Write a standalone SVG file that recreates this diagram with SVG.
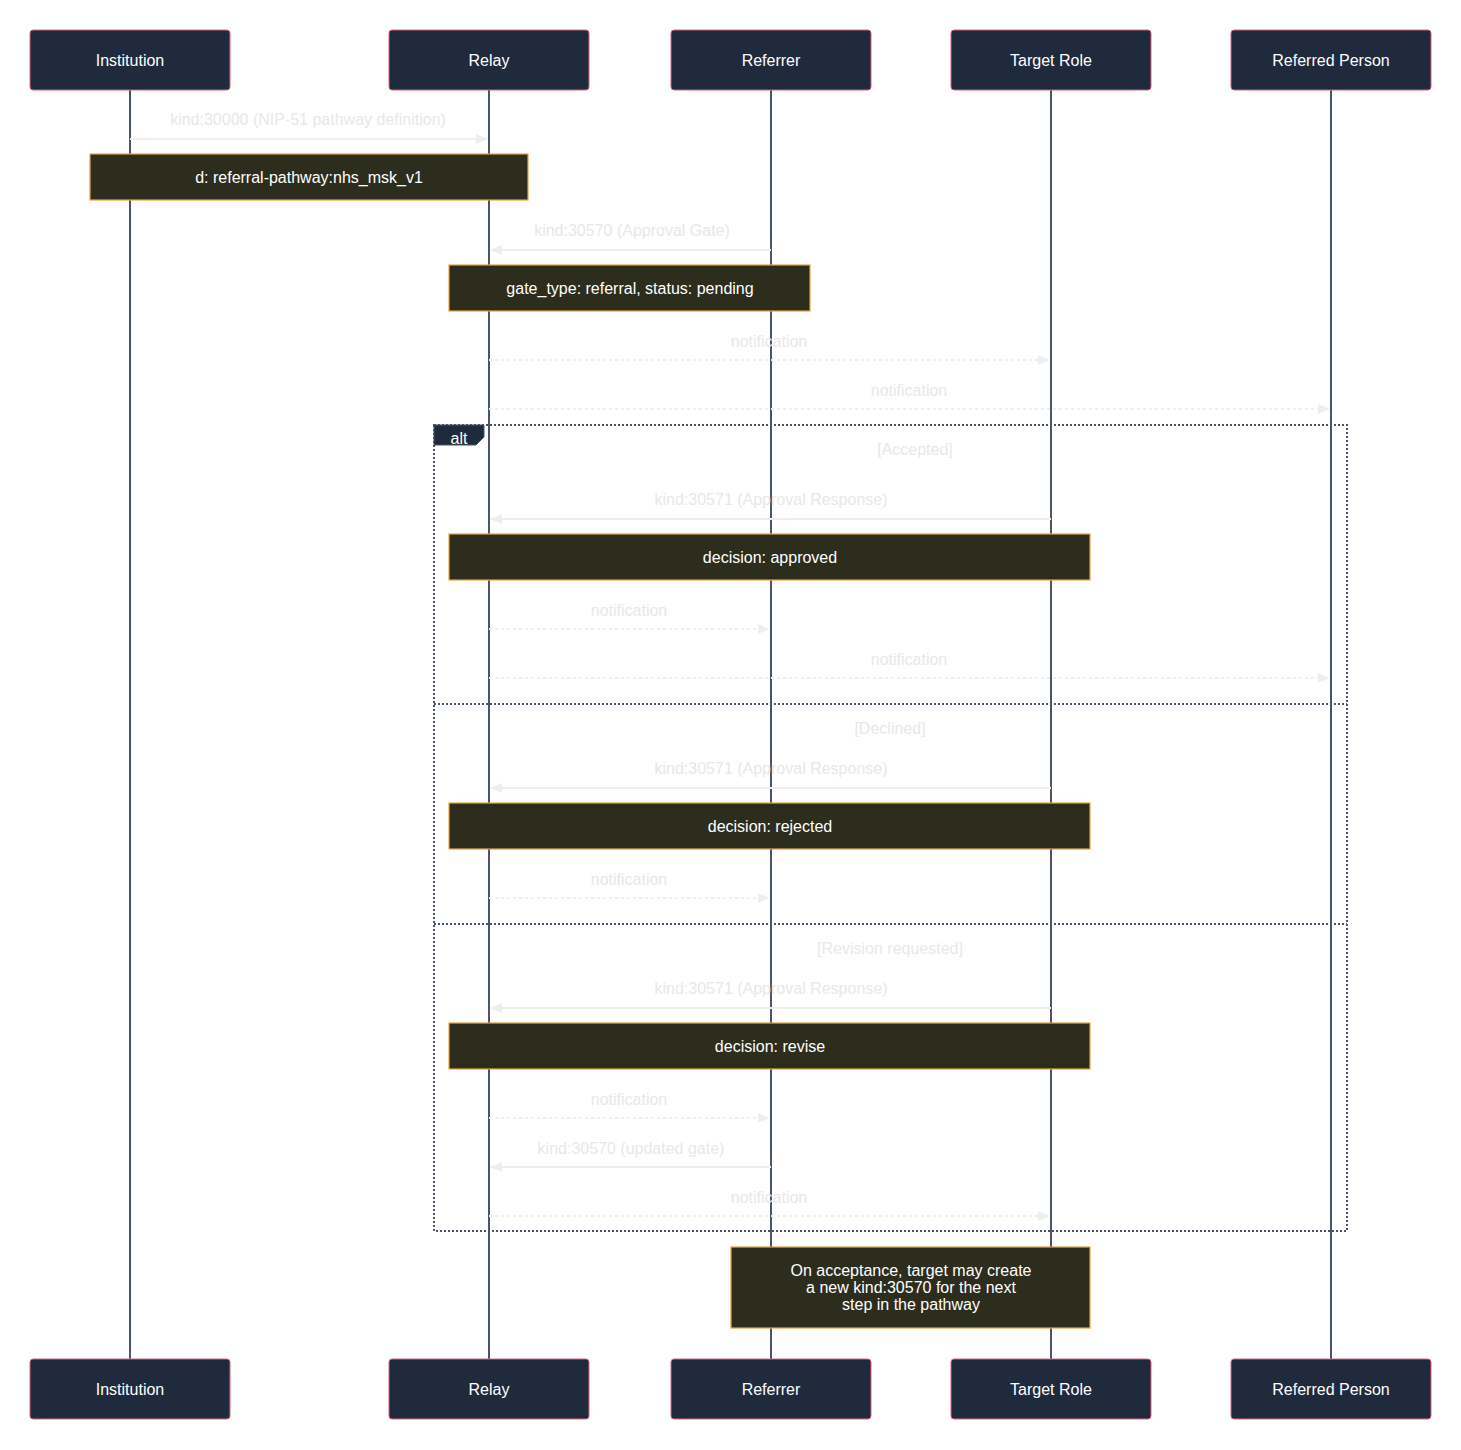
<svg xmlns="http://www.w3.org/2000/svg" width="1461" height="1450" viewBox="0 0 1461 1450">
<style>
text{font-family:"Liberation Sans",Arial,sans-serif;font-size:16px;text-anchor:middle;dominant-baseline:central}
.actor rect{fill:#1f2a3d;stroke:#e0607e;stroke-width:1}
.actor text{fill:#ffffff}
.life{stroke:#4a5568;stroke-width:2}
.note rect{fill:#2d2d1e;stroke:#e6a23c;stroke-width:1.2}
.note text{fill:#ffffff}
.msg{stroke:#eeeeee;stroke-width:2;fill:none}
.dot{stroke-dasharray:3,3}
.lbl{fill:#e8e8e8}
.frame{stroke:#4a5568;stroke-width:2;fill:none;stroke-dasharray:2,2}
</style>
<defs>
<marker id="ah" viewBox="0 0 12 10" markerWidth="12" markerHeight="10" refX="11" refY="5" orient="auto" markerUnits="userSpaceOnUse">
<path d="M0 0 L12 5 L0 10 z" fill="#eeeeee"/>
</marker>
</defs>
<g id="lifelines">
<line class="life" x1="130" y1="90" x2="130" y2="1359"/>
<line class="life" x1="489" y1="90" x2="489" y2="1359"/>
<line class="life" x1="771" y1="90" x2="771" y2="1359"/>
<line class="life" x1="1051" y1="90" x2="1051" y2="1359"/>
<line class="life" x1="1331" y1="90" x2="1331" y2="1359"/>
</g>
<g id="actor-institution-top" class="actor"><rect x="30" y="30" width="200" height="60" rx="3"/><text x="130" y="60">Institution</text></g>
<g id="actor-relay-top" class="actor"><rect x="389" y="30" width="200" height="60" rx="3"/><text x="489" y="60">Relay</text></g>
<g id="actor-referrer-top" class="actor"><rect x="671" y="30" width="200" height="60" rx="3"/><text x="771" y="60">Referrer</text></g>
<g id="actor-target-top" class="actor"><rect x="951" y="30" width="200" height="60" rx="3"/><text x="1051" y="60">Target Role</text></g>
<g id="actor-person-top" class="actor"><rect x="1231" y="30" width="200" height="60" rx="3"/><text x="1331" y="60">Referred Person</text></g>
<g id="actor-institution-bottom" class="actor"><rect x="30" y="1359" width="200" height="60" rx="3"/><text x="130" y="1389">Institution</text></g>
<g id="actor-relay-bottom" class="actor"><rect x="389" y="1359" width="200" height="60" rx="3"/><text x="489" y="1389">Relay</text></g>
<g id="actor-referrer-bottom" class="actor"><rect x="671" y="1359" width="200" height="60" rx="3"/><text x="771" y="1389">Referrer</text></g>
<g id="actor-target-bottom" class="actor"><rect x="951" y="1359" width="200" height="60" rx="3"/><text x="1051" y="1389">Target Role</text></g>
<g id="actor-person-bottom" class="actor"><rect x="1231" y="1359" width="200" height="60" rx="3"/><text x="1331" y="1389">Referred Person</text></g>
<g id="alt-frame">
<rect class="frame" x="434" y="425" width="913" height="806"/>
<line class="frame" x1="434" y1="704" x2="1347" y2="704"/>
<line class="frame" x1="434" y1="924" x2="1347" y2="924"/>
<path d="M434 425 H484 V437 L476 445 H434 Z" fill="#1f2a3d" stroke="#4a5568" stroke-width="1"/>
<text x="459" y="438" fill="#ffffff">alt</text>
<text class="lbl" x="915" y="449">[Accepted]</text>
<text class="lbl" x="890" y="728">[Declined]</text>
<text class="lbl" x="890" y="948">[Revision requested]</text>
</g>
<g id="note-pathway" class="note"><rect x="90" y="154" width="438" height="46"/><text x="309" y="177">d: referral-pathway:nhs_msk_v1</text></g>
<g id="note-gate" class="note"><rect x="449" y="265" width="361" height="46"/><text x="630" y="288">gate_type: referral, status: pending</text></g>
<g id="note-approved" class="note"><rect x="449" y="534" width="641" height="46"/><text x="770" y="557">decision: approved</text></g>
<g id="note-rejected" class="note"><rect x="449" y="803" width="641" height="46"/><text x="770" y="826">decision: rejected</text></g>
<g id="note-revise" class="note"><rect x="449" y="1023" width="641" height="46"/><text x="770" y="1046">decision: revise</text></g>
<g id="note-final" class="note"><rect x="731" y="1247" width="359" height="81"/><text x="911" y="1270">On acceptance, target may create</text><text x="911" y="1287">a new kind:30570 for the next</text><text x="911" y="1304">step in the pathway</text></g>
<g id="connectors">
<line class="msg" x1="130" y1="139" x2="487" y2="139" marker-end="url(#ah)"/>
<text class="lbl" x="308" y="119">kind:30000 (NIP-51 pathway definition)</text>
<line class="msg" x1="771" y1="250" x2="491" y2="250" marker-end="url(#ah)"/>
<text class="lbl" x="632" y="230">kind:30570 (Approval Gate)</text>
<line class="msg dot" x1="489" y1="360" x2="1049" y2="360" marker-end="url(#ah)"/>
<text class="lbl" x="769" y="341">notification</text>
<line class="msg dot" x1="489" y1="409" x2="1329" y2="409" marker-end="url(#ah)"/>
<text class="lbl" x="909" y="390">notification</text>
<line class="msg" x1="1051" y1="519" x2="491" y2="519" marker-end="url(#ah)"/>
<text class="lbl" x="771" y="499">kind:30571 (Approval Response)</text>
<line class="msg dot" x1="489" y1="629" x2="769" y2="629" marker-end="url(#ah)"/>
<text class="lbl" x="629" y="610">notification</text>
<line class="msg dot" x1="489" y1="678" x2="1329" y2="678" marker-end="url(#ah)"/>
<text class="lbl" x="909" y="659">notification</text>
<line class="msg" x1="1051" y1="788" x2="491" y2="788" marker-end="url(#ah)"/>
<text class="lbl" x="771" y="768">kind:30571 (Approval Response)</text>
<line class="msg dot" x1="489" y1="898" x2="769" y2="898" marker-end="url(#ah)"/>
<text class="lbl" x="629" y="879">notification</text>
<line class="msg" x1="1051" y1="1008" x2="491" y2="1008" marker-end="url(#ah)"/>
<text class="lbl" x="771" y="988">kind:30571 (Approval Response)</text>
<line class="msg dot" x1="489" y1="1118" x2="769" y2="1118" marker-end="url(#ah)"/>
<text class="lbl" x="629" y="1099">notification</text>
<line class="msg" x1="771" y1="1167" x2="491" y2="1167" marker-end="url(#ah)"/>
<text class="lbl" x="631" y="1148">kind:30570 (updated gate)</text>
<line class="msg dot" x1="489" y1="1216" x2="1049" y2="1216" marker-end="url(#ah)"/>
<text class="lbl" x="769" y="1197">notification</text>
</g>
</svg>
